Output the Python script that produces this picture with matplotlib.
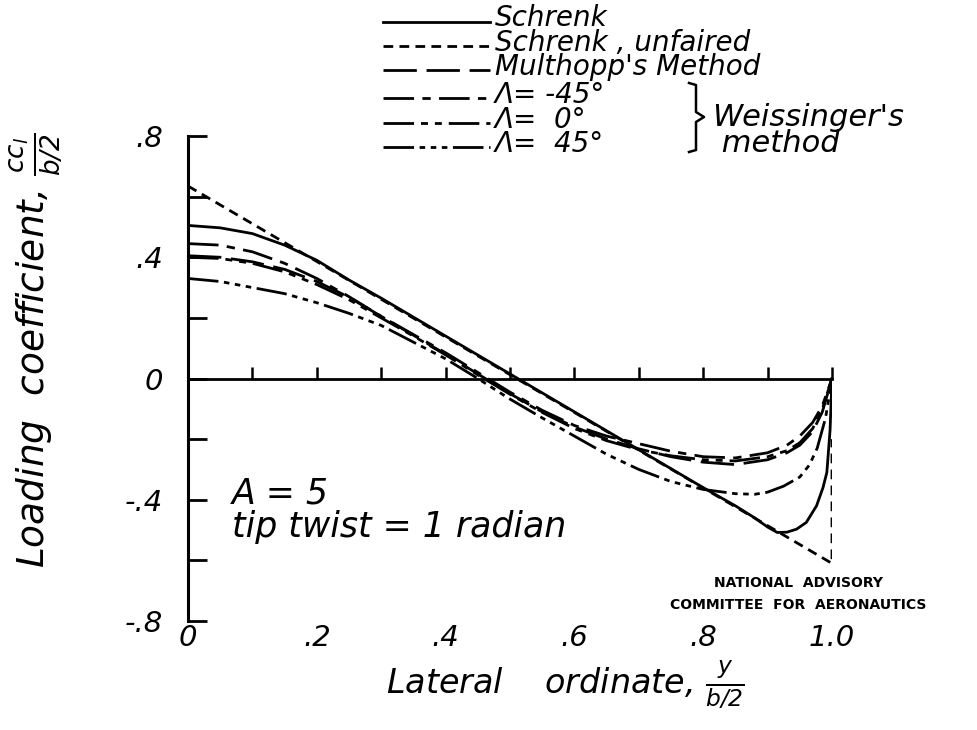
import numpy as np
import matplotlib.pyplot as plt
from matplotlib.lines import Line2D

plt.rcParams['font.family'] = 'DejaVu Sans'
plt.rcParams['font.style'] = 'italic'
plt.rcParams['mathtext.fontset'] = 'dejavusans'
plt.rcParams['lines.scale_dashes'] = False

# Schrenk (faired) and Schrenk unfaired
x_schrenk = [0, .05, .1, .15, .2, .25, .3, .4, .5, .6, .7, .8, .85, .88, .9, .915,
             .93, .945, .96, .976, .986, .992, .997, 1.0]
y_schrenk = [.505, .497, .478, .44, .39, .325, .265, .14, .015, -.11, -.235, -.36,
             -.42, -.46, -.49, -.508, -.507, -.497, -.475, -.42, -.36, -.31, -.17, 0]
x_unfaired = [0.0, 1.0, 1.0]
y_unfaired = [0.635, -0.61, -0.2]

# Multhopp and Weissinger (sweep -45, 0) share the same stations
x_w = [0, .05, .1, .15, .2, .25, .3, .35, .4, .45, .5, .55, .6, .65, .7, .75, .8,
       .85, .9, .93, .95, .97, .985, 1.0]
y_multhopp = [.405, .40, .385, .36, .32, .268, .205, .143, .08, .015, -.05, -.11,
              -.16, -.2, -.232, -.258, -.276, -.284, -.268, -.245, -.22, -.175, -.11, 0]
y_sweep_m45 = [.445, .44, .418, .38, .33, .27, .205, .145, .085, .02, -.045, -.105,
               -.155, -.19, -.215, -.24, -.258, -.262, -.245, -.22, -.19, -.145, -.09, 0]
y_sweep_0 = [.40, .396, .38, .352, .31, .26, .2, .14, .078, .012, -.052, -.112,
             -.165, -.205, -.235, -.255, -.268, -.272, -.258, -.238, -.212, -.165, -.1, 0]
# Weissinger, sweep 45
x_sweep_45 = [0, .05, .1, .15, .2, .25, .3, .35, .4, .45, .5, .55, .6, .65, .7, .75,
              .8, .85, .88, .9, .925, .95, .965, .977, .99, 1.0]
y_sweep_45 = [.33, .32, .30, .28, .25, .215, .175, .12, .065, .0, -.068, -.13, -.19,
              -.25, -.30, -.34, -.366, -.38, -.382, -.375, -.355, -.325, -.285, -.23,
              -.13, 0]

y_ticks = [-.8, -.6, -.4, -.2, 0, .2, .4, .6, .8]
y_ticklabels = ['-.8', '', '-.4', '', '0', '', '.4', '', '.8']
x_ticks = [0, .2, .4, .6, .8, 1.0]
x_ticklabels = ['0', '.2', '.4', '.6', '.8', '1.0']

legend_labels = ['Schrenk', 'Schrenk , unfaired', "Multhopp's Method",
                 'Λ= -45°', 'Λ=  0°', 'Λ=  45°']
legend_keys = ['schrenk', 'unfaired', 'multhopp', 'm45', 'z0', 'p45']

styles = {
    'schrenk': '-',
    'unfaired': (0, (7, 4.5)),
    'multhopp': (0, (24, 7)),
    'm45': (0, (22, 6, 6, 6)),
    'z0': (0, (22, 5, 5, 5, 5, 5)),
    'p45': (0, (22, 4, 4, 4, 4, 4, 4, 4)),
}

W, H = 977, 730
fig = plt.figure(figsize=(W / 100, H / 100), dpi=100)
top_px, bot_px = 136, 621
ax = fig.add_axes([188 / W, 1 - bot_px / H, 644 / W, (bot_px - top_px) / H])

lw = 2.0
ax.plot(x_schrenk, y_schrenk, color='black', lw=lw, ls=styles['schrenk'])
ax.plot(x_unfaired, y_unfaired, color='black', lw=lw, ls=styles['unfaired'])
ax.plot(x_w, y_multhopp, color='black', lw=lw, ls=styles['multhopp'])
ax.plot(x_w, y_sweep_m45, color='black', lw=lw, ls=styles['m45'])
ax.plot(x_w, y_sweep_0, color='black', lw=lw, ls=styles['z0'])
ax.plot(x_sweep_45, y_sweep_45, color='black', lw=lw, ls=styles['p45'])

ax.set_xlim(0, 1.0)
ax.set_ylim(-0.8, 0.8)
for s in ['top', 'right']:
    ax.spines[s].set_visible(False)
ax.spines['left'].set_linewidth(2.2)
ax.spines['bottom'].set_position(('data', 0))
ax.spines['bottom'].set_linewidth(2.0)

ax.set_yticks(y_ticks)
ax.set_yticklabels(y_ticklabels)
ax.tick_params(axis='y', direction='in', length=14, width=2, pad=18, labelsize=21)
ax.set_xticks(np.arange(1, 11) / 10)
ax.tick_params(axis='x', direction='in', length=9, width=1.8, labelbottom=False)

sec = ax.secondary_xaxis(0.0)
sec.set_xticks(x_ticks)
sec.set_xticklabels(x_ticklabels)
sec.spines['bottom'].set_visible(False)
sec.tick_params(length=0, pad=2, labelsize=21)

ax.text(0.068, -0.38, 'A = 5', fontsize=25, va='center', ha='left')
ax.text(0.068, -0.49, 'tip twist = 1 radian', fontsize=25, va='center', ha='left')

fig.text(36 / W, 1 - 350 / H, r'Loading  coefficient, $\frac{cc_l}{b/2}$',
         rotation=90, fontsize=27, va='center', ha='center')
fig.text(565 / W, 1 - 693 / H, r'Lateral    ordinate, $\frac{y}{b/2}$',
         fontsize=24, va='baseline', ha='center')

fig.text(798 / W, 1 - 594 / H, 'NATIONAL  ADVISORY\nCOMMITTEE  FOR  AERONAUTICS',
         fontsize=10, weight='bold', style='normal', ha='center', va='center',
         linespacing=1.75)

# legend drawn in figure pixels: two text blocks, line samples beside each row
row_gap = 24.3
bases = [26.5 + i * row_gap for i in range(3)] + [152 - (2 - i) * row_gap for i in range(3)]
fig.text(495 / W, 1 - bases[2] / H, '\n'.join(legend_labels[:3]), fontsize=20,
         va='baseline', ha='left', linespacing=0.84)
fig.text(495 / W, 1 - bases[5] / H, '\n'.join(legend_labels[3:]), fontsize=20,
         va='baseline', ha='left', linespacing=0.84)
for key, b in zip(legend_keys, bases):
    yl = 1 - (b - 5) / H
    fig.add_artist(Line2D([383 / W, 490 / W], [yl, yl], transform=fig.transFigure,
                          color='black', lw=lw, ls=styles[key]))

bx = [689, 696, 696, 704, 696, 696, 689]
by = [83, 85, 112, 117, 122, 150, 152]
fig.add_artist(Line2D([v / W for v in bx], [1 - v / H for v in by],
                      transform=fig.transFigure, color='black', lw=1.8))
fig.text(712 / W, 1 - 152 / H, "Weissinger's\n method", fontsize=22, va='baseline',
         ha='left', linespacing=0.85)

fig.savefig('out.png', dpi=100)
